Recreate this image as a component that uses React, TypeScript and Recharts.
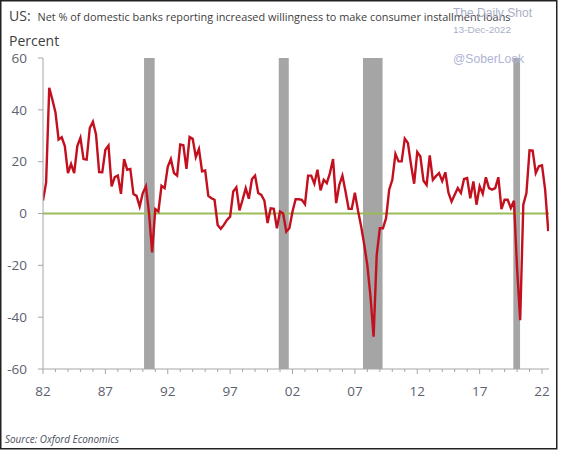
import {
    ComposedChart,
    Line,
    XAxis,
    YAxis,
    ReferenceArea,
    ReferenceLine,
} from "recharts";

// quarterly readings, 1982Q1 .. 2022Q3
const firstYear = 1982;
const netPercent = [
    5, 12, 48.5, 44,
    39, 28.5, 29.4, 26,
    15.6, 19.1, 15.6, 26,
    29.2, 21, 20.8, 33,
    35.4, 30.5, 16, 15.9,
    24.6, 26.2, 10.5, 14,
    14.6, 7.6, 21, 16.9,
    17.2, 7.5, 6.8, 2.7,
    7.9, 10.5, 0, -15,
    1.7, 0.8, 10.7, 9.8,
    18, 21, 15.6, 14.6,
    26.6, 26.3, 17.2, 29.5,
    28.8, 21.8, 24.9, 16.3,
    16.6, 6.8, 5.9, 5.3,
    -4.4, -5.9, -4.4, -2.5,
    -1.2, 8.5, 10.1, 1.2,
    5.3, 9.8, 5.7, 13.3,
    14.6, 7.9, 7.2, 4.9,
    -3.7, 2, 1.8, -5.7,
    0.8, 0, -7, -5.7,
    0.8, 5.5, 5.5, 5.3,
    3.6, 14.6, 14.6, 11.5,
    16.9, 8.9, 13, 11.7,
    15.6, 21, 4, 11,
    14.6, 8.5, 1.8, 1.8,
    8, 1.1, -4.9, -12,
    -20, -32, -47.5, -16,
    -5.7, -5.7, -1.8, 9.2,
    13, 23, 20.1, 20.1,
    28.9, 27.2, 18.8, 11.5,
    23.7, 22, 12.6, 11,
    22.4, 13, 14.4, 15.6,
    12.5, 15.9, 8, 4.6,
    7.2, 9.8, 7.9, 13.3,
    13.7, 5.9, 12.4, 3.4,
    10.5, 7.6, 14, 9.8,
    9.2, 9.8, 14, 1.7,
    5.3, 5.3, 2.1, 4.9,
    -21, -41.2, 3.4, 7.9,
    24.4, 24.3, 15.6, 18.2,
    18.6, 9.2, -6.8,
];

// recession shading (start, end) in fractional years
const recessions = [
    [1990.1, 1990.95],
    [2000.9, 2001.7],
    [2007.65, 2009.22],
    [2019.7, 2020.24],
];

const tickYears = [
    1982, 1983, 1984, 1985, 1986, 1987, 1988, 1989, 1990, 1991,
    1992, 1993, 1994, 1995, 1996, 1997, 1998, 1999, 2000, 2001,
    2002, 2003, 2004, 2005, 2006, 2007, 2008, 2009, 2010, 2011,
    2012, 2013, 2014, 2015, 2016, 2017, 2018, 2019, 2020, 2021, 2022,
];
const labelYears = [1982, 1987, 1992, 1997, 2002, 2007, 2012, 2017, 2022];
const yTicks = [-60, -40, -20, 0, 20, 40, 60];

const tickColor = "#5b6170";
const axisColor = "#a6a6a6";
const font = "'Open Sans', 'Noto Sans', sans-serif";

const chartData = netPercent.map((v, i) => ({ t: firstYear + i / 4, v }));

const XTick = (props: any) => {
    const { x, y, payload } = props;
    const major = labelYears.includes(payload.value);
    return (
        <g>
            <line x1={x} x2={x} y1={y} y2={y + (major ? 5 : 3)} stroke={axisColor} />
            {major && (
                <text x={x} y={y + 27} textAnchor="middle" fill={tickColor} fontSize={13.5} fontFamily={font}>
                    {String(payload.value).slice(2)}
                </text>
            )}
        </g>
    );
};

export default function App() {
    return (
        <div style={{ position: "absolute", left: 0, top: 0, width: 562, height: 451, background: "#fff" }}>
            <ComposedChart
                width={562}
                height={451}
                data={chartData}
                margin={{ top: 58, right: 13, left: 0, bottom: 52 }}
            >
                <XAxis
                    dataKey="t"
                    type="number"
                    domain={[1982, 2022.56]}
                    ticks={tickYears}
                    interval={0}
                    tick={<XTick />}
                    tickLine={false}
                    tickSize={0}
                    tickMargin={0}
                    height={30}
                    stroke={axisColor}
                    allowDataOverflow
                />
                <YAxis
                    type="number"
                    domain={[-60, 60]}
                    ticks={yTicks}
                    width={43}
                    tickSize={5}
                    tickMargin={11}
                    stroke={axisColor}
                    tick={{ fill: tickColor, fontSize: 13.5, fontFamily: font }}
                />
                {recessions.map(([a, b]) => (
                    <ReferenceArea key={a} x1={a} x2={b} fill="#a5a5a5" fillOpacity={1} stroke="none" />
                ))}
                <ReferenceLine y={0} stroke="#9bbb59" strokeWidth={2} />
                <Line
                    dataKey="v"
                    type="linear"
                    stroke="#c3101f"
                    strokeWidth={2.4}
                    dot={false}
                    isAnimationActive={false}
                />
            </ComposedChart>
            <svg
                width={562}
                height={451}
                style={{ position: "absolute", left: 0, top: 0, pointerEvents: "none" }}
            >
                <text x={9} y={21} fontSize={14} fill="#404040" fontFamily={font}>US:</text>
                <text x={37.5} y={20.5} fontSize={11} fill="#404040" fontFamily={font} textLength={473} lengthAdjust="spacingAndGlyphs">
                    Net % of domestic banks reporting increased willingness to make consumer installment loans
                </text>
                <text x={9} y={46} fontSize={14} fill="#404040" fontFamily={font}>Percent</text>
                <text x={453} y={16.7} fontSize={12.5} fill="#aab0c8" fontFamily="'Liberation Sans', Arial" textLength={79} lengthAdjust="spacingAndGlyphs">
                    The Daily Shot
                </text>
                <text x={453} y={33.3} fontSize={9.5} fill="#aab0c8" fontFamily="'Liberation Sans', Arial" textLength={58} lengthAdjust="spacingAndGlyphs">
                    13-Dec-2022
                </text>
                <text x={453} y={63.3} fontSize={12.5} fill="#b0b4d6" fontFamily="'Liberation Sans', Arial" textLength={71} lengthAdjust="spacingAndGlyphs">
                    @SoberLook
                </text>
                <text x={5} y={443.3} fontSize={10.5} fontStyle="italic" fill="#4a5060" fontFamily={font} textLength={114} lengthAdjust="spacingAndGlyphs">
                    Source: Oxford Economics
                </text>
                <rect x={0.75} y={0.75} width={556} height={448} fill="none" stroke="#222" strokeWidth={1.5} />
            </svg>
        </div>
    );
}
